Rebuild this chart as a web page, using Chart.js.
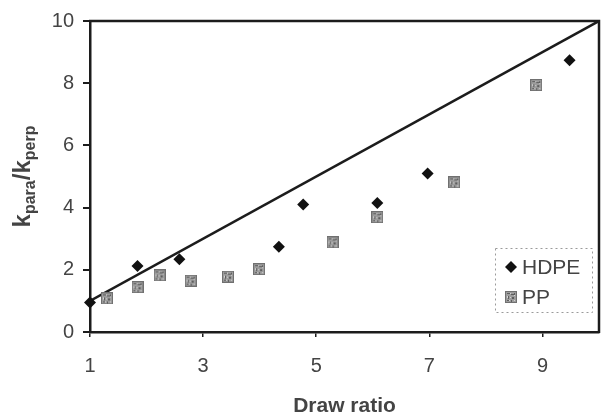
<!DOCTYPE html>
<html><head><meta charset="utf-8">
<script src="https://cdn.jsdelivr.net/npm/chart.js@4/dist/chart.umd.min.js"></script>
<style>html,body{margin:0;padding:0;background:#fff}#wrap{width:609px;height:419px;position:relative}</style>
</head><body><div id="wrap"><canvas id="c" width="609" height="419"></canvas></div>
<script>
// ---- data ----
const hdpeX = [1.0, 1.84, 2.58, 4.34, 4.77, 6.08, 6.97, 9.48];
const hdpeY = [0.95, 2.12, 2.34, 2.74, 4.10, 4.15, 5.10, 8.74];
const ppX = [1.30, 1.84, 2.23, 2.78, 3.44, 3.99, 5.29, 6.08, 7.44, 8.89];
const ppY = [1.08, 1.44, 1.82, 1.65, 1.78, 2.02, 2.88, 3.69, 4.81, 7.94];
const lineX = [1, 10];
const lineY = [1, 10];
const xTicks = [1, 3, 5, 7, 9];
const yTicks = [0, 2, 4, 6, 8, 10];
const seriesNames = ['HDPE', 'PP'];
const xTitle = 'Draw ratio';
const yTitleParts = [['k', false], ['para', true], ['/', false], ['k', false], ['perp', true]];

const FONT = '"Liberation Sans", Arial, Helvetica, sans-serif';
const TXT = '#444444';
const AX = '#1c1c1c';

// hatched grey square marker for PP
const ppImg = document.createElement('canvas');
ppImg.width = 12; ppImg.height = 12;
(function () {
  const g = ppImg.getContext('2d');
  g.fillStyle = '#9c9c9c'; g.fillRect(0, 0, 12, 12);
  g.strokeStyle = '#707070'; g.lineWidth = 1; g.strokeRect(0.5, 0.5, 11, 11);
  g.fillStyle = '#5e5e5e';
  [[2, 2, 3, 1], [6, 3, 4, 1], [3, 5, 1, 3], [7, 6, 2, 2], [6, 9, 1, 2], [2, 9, 2, 1], [9, 2, 1, 1]].forEach(r => g.fillRect(r[0], r[1], r[2], r[3]));
  g.fillStyle = '#d4d4d4';
  [[5, 2, 1, 1], [9, 4, 1, 1], [2, 5, 1, 2], [5, 6, 1, 1], [9, 9, 1, 1], [4, 9, 1, 1]].forEach(r => g.fillRect(r[0], r[1], r[2], r[3]));
})();

const zip = (xs, ys) => xs.map((x, i) => ({ x: x, y: ys[i] }));

const decor = {
  id: 'decor',
  afterDatasetsDraw(chart) {
    const ctx = chart.ctx, a = chart.chartArea;
    ctx.save();
    // frame top & right
    ctx.strokeStyle = AX; ctx.lineWidth = 2.5;
    ctx.beginPath();
    ctx.moveTo(a.left - 1, a.top); ctx.lineTo(a.right, a.top); ctx.lineTo(a.right, a.bottom + 1);
    ctx.stroke();
    // legend
    const lx = a.right - 104, ly = a.bottom - 84;
    ctx.setLineDash([2, 3]); ctx.lineWidth = 1; ctx.strokeStyle = '#9a9a9a';
    ctx.strokeRect(lx + 0.5, ly + 0.5, 97, 64);
    ctx.setLineDash([]);
    const dx = lx + 16, dy1 = ly + 19, dy2 = ly + 49;
    ctx.fillStyle = '#111';
    ctx.beginPath();
    ctx.moveTo(dx, dy1 - 6); ctx.lineTo(dx + 6, dy1); ctx.lineTo(dx, dy1 + 6); ctx.lineTo(dx - 6, dy1); ctx.closePath();
    ctx.fill();
    ctx.drawImage(ppImg, dx - 6, dy2 - 6);
    ctx.fillStyle = TXT; ctx.font = '21px ' + FONT; ctx.textBaseline = 'middle'; ctx.textAlign = 'left';
    ctx.fillText(seriesNames[0], lx + 27, dy1 + 1);
    ctx.fillText(seriesNames[1], lx + 27, dy2 + 1);
    // y title with subscripts
    ctx.translate(25, (a.top + a.bottom) / 2);
    ctx.rotate(-Math.PI / 2);
    const mainF = 'bold 24px ' + FONT, subF = 'bold 16px ' + FONT;
    let total = 0;
    yTitleParts.forEach(p => { ctx.font = p[1] ? subF : mainF; total += ctx.measureText(p[0]).width; });
    let x = -total / 2;
    ctx.textBaseline = 'alphabetic';
    yTitleParts.forEach(p => {
      ctx.font = p[1] ? subF : mainF;
      ctx.fillText(p[0], x, p[1] ? 10 : 5);
      x += ctx.measureText(p[0]).width;
    });
    ctx.restore();
  }
};

new Chart(document.getElementById('c'), {
  type: 'scatter',
  data: {
    datasets: [
      { label: 'fit', data: zip(lineX, lineY), showLine: true, borderColor: AX, borderWidth: 2.5, pointRadius: 0, order: 3 },
      { label: seriesNames[0], data: zip(hdpeX, hdpeY), pointStyle: 'rectRot', pointRadius: 6, backgroundColor: '#111', borderColor: '#111', borderWidth: 0, order: 1, clip: false },
      { label: seriesNames[1], data: zip(ppX, ppY), pointStyle: ppImg, pointRadius: 6, order: 2 }
    ]
  },
  options: {
    responsive: false, animation: false,
    layout: { padding: { top: 21, right: 10, left: 0, bottom: 0 } },
    plugins: { legend: { display: false }, tooltip: { enabled: false } },
    elements: { point: { hoverRadius: 6 } },
    scales: {
      x: {
        type: 'linear', min: 1, max: 10,
        afterBuildTicks: s => { s.ticks = xTicks.map(v => ({ value: v })); },
        afterFit: s => { s.height = 87; },
        ticks: { font: { size: 20, family: FONT }, color: TXT, padding: 17, maxRotation: 0 },
        grid: { drawOnChartArea: false, drawTicks: true, tickLength: 5, color: AX, lineWidth: 1.5 },
        border: { display: true, color: AX, width: 2.5 },
        title: { display: true, text: xTitle, font: { size: 21, weight: 'bold', family: FONT }, color: TXT, padding: { top: 6, bottom: 0 } }
      },
      y: {
        type: 'linear', min: 0, max: 10,
        afterBuildTicks: s => { s.ticks = yTicks.map(v => ({ value: v })); },
        afterFit: s => { s.width = 90; },
        ticks: { font: { size: 20, family: FONT }, color: TXT, padding: 9 },
        grid: { drawOnChartArea: false, drawTicks: true, tickLength: 7, color: AX, lineWidth: 2 },
        border: { display: true, color: AX, width: 2.5 }
      }
    }
  },
  plugins: [decor]
});
</script></body></html>
